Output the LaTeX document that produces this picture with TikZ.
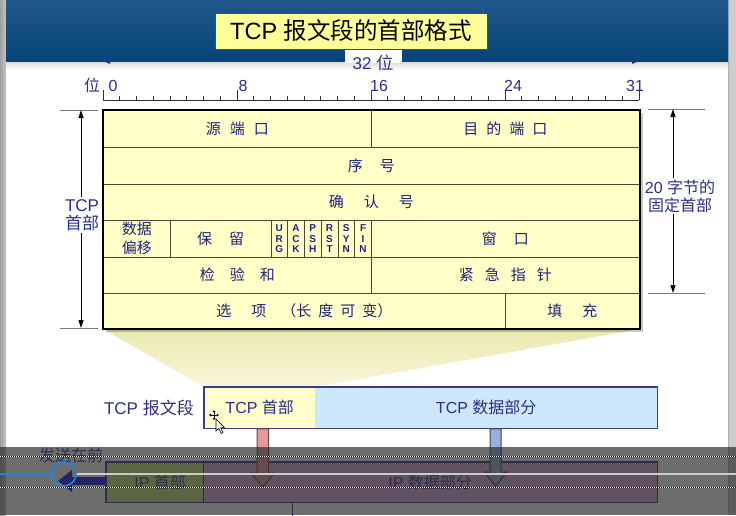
\documentclass[tikz,border=0pt]{standalone}
\usepackage{fontspec}
\setmainfont{Liberation Sans}
\newfontfamily\cjk{Noto Sans CJK SC}
\usetikzlibrary{arrows.meta,calc}
\pgfdeclarelayer{back}
\pgfdeclarelayer{mid}
\pgfdeclarelayer{front}
\pgfsetlayers{back,mid,main,front}
\newcommand\zh[1]{{\cjk #1}}
\newcommand\fsz[2]{\fontsize{#1}{#2}\selectfont}

\definecolor{bandtop}{HTML}{21588B}
\definecolor{bandbot}{HTML}{054477}
\definecolor{titlefill}{HTML}{FFFF99}
\definecolor{navytxt}{HTML}{2B2F88}
\definecolor{celltxt}{HTML}{1F2478}
\definecolor{cellfill}{HTML}{FFFFC8}
\definecolor{cellline}{HTML}{4A4A30}
\definecolor{rulecol}{HTML}{333333}
\definecolor{brackcol}{HTML}{777777}
\definecolor{hdrfill}{HTML}{FFFFCC}
\definecolor{datafill}{HTML}{CDE8FB}
\definecolor{segline}{HTML}{3A3A8E}
\definecolor{trapTop}{HTML}{EAE8AE}
\definecolor{trapBot}{HTML}{F8F7DA}
\definecolor{ipgreen}{HTML}{C4E878}
\definecolor{ippurple}{HTML}{DCA8DA}
\definecolor{arrowred}{HTML}{E49A9A}
\definecolor{arrowblue}{HTML}{98B0E0}
\definecolor{sendblue}{HTML}{1A1AE8}
\definecolor{overlaycol}{HTML}{282828}
\definecolor{progblue}{HTML}{1E86E0}

\begin{document}
\begin{tikzpicture}[x=1pt,y=-1pt,
  tcell/.style={draw=cellline, line width=0.9pt, fill=cellfill, anchor=north west,
    inner sep=0pt, text=celltxt, font=\fsz{15}{18}\cjk},
  flagcell/.style={tcell, minimum width=16.75pt, minimum height=36.5pt, align=center,
    font=\fsz{10}{10.4}\bfseries},
  rulenum/.style={anchor=base, text=navytxt, font=\fsz{16}{18}, inner sep=0pt},
  sidetxt/.style={fill=white, text=navytxt, align=center, font=\fsz{16}{18}, inner sep=2pt},
  segpart/.style={anchor=north west, minimum height=41pt, inner sep=0pt, text=navytxt, font=\fsz{16}{18}},
  ippart/.style={anchor=north west, minimum height=40pt, inner sep=0pt, text=segline, font=\fsz{16}{18}},
  dimarrow/.style={line width=0.9pt, {Triangle[length=8pt,width=5pt]}-{Triangle[length=8pt,width=5pt]}},
  brack/.style={brackcol, line width=0.9pt}
]
\useasboundingbox (0,0) rectangle (736,515);

% ---- page background, side strips and heading band
\begin{pgfonlayer}{back}
  \fill[white] (0,0) rectangle (736,515);
  \shade[left color=gray!75, right color=gray!45] (0,0) rectangle (6,515);
  \fill[gray!40] (728,0) rectangle (736,515);
  \draw[gray!65, line width=0.8pt] (728.4,0) -- (728.4,515);
  \shade[top color=bandtop, bottom color=bandbot] (6,0) rectangle (728,62);
  \shade[top color=black!14, bottom color=white] (6,62) rectangle (728,70);
\end{pgfonlayer}

% ---- title and 32-bit width marker
\draw[navytxt, line width=0.8pt, {Latex[length=7pt,width=5pt]}-{Latex[length=7pt,width=5pt]}]
  (103,61.5) -- (639,61.5);
\fill[white] (345,49) rectangle (402,63);
\node[text=navytxt, font=\fsz{17}{19}, inner sep=0pt] (width) at (373,63) {32 \zh{位}};
\node[draw=gray!60!black, line width=0.8pt, fill=titlefill, minimum width=272pt,
  minimum height=36pt, inner sep=0pt, font=\fsz{23.5}{26}] (title) at (351,31)
  {TCP \zh{报文段的首部格式}};

% ---- bit ruler
\draw[rulecol, line width=0.9pt] (103,100) -- (639,100);
\foreach \i in {0,...,32}{
  \pgfmathsetmacro\tick{mod(\i,8)==0 ? 10 : 4}
  \draw[rulecol, line width=0.9pt] (103+\i*16.75,100) -- ++(0,-\tick);
}
\node[rulenum, font=\fsz{16}{18}\cjk] (bitword) at (92,91) {位};
\node[rulenum] (b0)  at (113,91) {0};
\node[rulenum] (b8)  at (243,91) {8};
\node[rulenum] (b16) at (379,91) {16};
\node[rulenum] (b24) at (513,91) {24};
\node[rulenum] (b31) at (635,91) {31};

% ---- header fields
\node[tcell, minimum width=268pt, minimum height=37pt] (src) at (103,110) {源\hspace{9pt}端\hspace{9pt}口};
\node[tcell, minimum width=268pt, minimum height=37pt] (dst) at (371,110) {目\hspace{8pt}的\hspace{8pt}端\hspace{8pt}口};
\node[tcell, minimum width=536pt, minimum height=36.5pt] (seq) at (103,147) {序\hspace{17pt}号};
\node[tcell, minimum width=536pt, minimum height=36.5pt] (ackn) at (103,183.5) {确\hspace{20pt}认\hspace{20pt}号};
\node[tcell, minimum width=67pt, minimum height=36.5pt, align=center,
  font=\fsz{15}{19}\cjk] (doff) at (103,220) {数据\\偏移};
\node[tcell, minimum width=100.5pt, minimum height=36.5pt] (rsv) at (170,220) {保\hspace{17pt}留};
\node[flagcell] (furg) at (270.5,220)  {U\\R\\G};
\node[flagcell] (fack) at (287.25,220) {A\\C\\K};
\node[flagcell] (fpsh) at (304,220)    {P\\S\\H};
\node[flagcell] (frst) at (320.75,220) {R\\S\\T};
\node[flagcell] (fsyn) at (337.5,220)  {S\\Y\\N};
\node[flagcell] (ffin) at (354.25,220) {F\\I\\N};
\node[tcell, minimum width=268pt, minimum height=36.5pt] (win) at (371,220) {窗\hspace{17pt}口};
\node[tcell, minimum width=268pt, minimum height=36.5pt] (chk) at (103,256.5) {检\hspace{15pt}验\hspace{15pt}和};
\node[tcell, minimum width=268pt, minimum height=36.5pt] (urgp) at (371,256.5) {紧\hspace{11pt}急\hspace{11pt}指\hspace{11pt}针};
\node[tcell, minimum width=402pt, minimum height=35pt] (opt) at (103,293)
  {选\hspace{20pt}项\hspace{15pt}（长\hspace{7pt}度\hspace{7pt}可\hspace{7pt}变）\hspace{18pt}};
\node[tcell, minimum width=134pt, minimum height=35pt] (pad) at (505,293) {填\hspace{20pt}充};
\draw[black, line width=1.8pt] (src.north west) rectangle (pad.south east);

% ---- dimension brackets
\draw[brack] (60,110) -- (98,110);
\draw[brack] (60,328) -- (98,328);
\coordinate (lt) at (81,110);
\coordinate (lb) at (81,328);
\draw[dimarrow] (lt) -- (lb);
\node[sidetxt, font=\fsz{17}{18.5}] (hdrlen) at (82,215) {TCP\\\zh{首部}};

\draw[brack] (648,109) -- (705,109);
\draw[brack] (648,293) -- (705,293);
\coordinate (rt) at (673,109);
\coordinate (rb) at (673,293);
\draw[dimarrow] (rt) -- (rb);
\node[sidetxt] (fixlen) at (680,196) {20 \zh{字节的}\\\zh{固定首部}};

% ---- TCP segment
\node[segpart, minimum width=111pt, fill=hdrfill] (tcphdr) at (204,387) {TCP \zh{首部}};
\node[segpart, minimum width=342pt, fill=datafill] (tcpdata) at (315,387) {TCP \zh{数据部分}};
\draw[segline, line width=1.5pt] (tcphdr.north west) rectangle (tcpdata.south east);
\node[anchor=east, text=navytxt, font=\fsz{17}{19}, inner sep=0pt] (seglabel) at (194,408) {TCP \zh{报文段}};

% ---- header expanded from the segment, table shadow
\begin{pgfonlayer}{mid}
  \shade[top color=trapTop, bottom color=trapBot]
    (opt.south west) -- (pad.south east) -- (tcphdr.north east) -- (tcphdr.north west) -- cycle;
  \fill[black, opacity=0.22] ($(src.north west)+(3,3)$) rectangle ($(pad.south east)+(3,3)$);
\end{pgfonlayer}

% ---- IP datagram
\node[ippart, minimum width=97pt, fill=ipgreen] (iphdr) at (106,462) {\hspace{11pt}IP \zh{首部}};
\node[ippart, minimum width=454pt, fill=ippurple] (ipdata) at (203,462) {IP \zh{数据部分}\hspace{24pt}};
\draw[segline, line width=1.5pt] (iphdr.north west) rectangle (ipdata.south east);
\draw[segline, line width=1.2pt] (iphdr.north east) -- (iphdr.south east);
\draw[segline, line width=1pt] ($(ipdata.south west)+(89,0)$) -- ++(0,14);

% ---- mapping arrows (segment into datagram)
\filldraw[fill=arrowred, draw=arrowred!45!black, line width=1pt]
  (257,428.8) -- (257,473) -- (251,473) -- (262.75,487) -- (274.5,473) -- (268.5,473) -- (268.5,428.8) -- cycle;
\filldraw[fill=arrowblue, draw=arrowblue!40!black, line width=1pt]
  (490,428.8) -- (490,472) -- (484,472) -- (495.5,486) -- (507,472) -- (501,472) -- (501,428.8) -- cycle;

% ---- transmission order
\fill[sendblue] (iphdr.west |- 0,477) -- (72,477) -- (72,470) -- (58,481) -- (72,492) -- (72,485) -- (iphdr.west |- 0,485) -- cycle;
\node[text=segline, font=\fsz{16}{18}\cjk, inner sep=0pt] (sendfirst) at (71,455) {发送在前};

% ---- mouse pointer
\draw[black, line width=0.7pt] (210,415) -- (218,415) (214,411) -- (214,419);
\fill[black] (209,415) -- (211,413.5) -- (211,416.5) -- cycle
  (219,415) -- (217,413.5) -- (217,416.5) -- cycle
  (214,410) -- (212.5,412) -- (215.5,412) -- cycle
  (214,420) -- (212.5,418) -- (215.5,418) -- cycle;
\filldraw[fill=white, draw=black, line width=0.6pt]
  (216,419) -- (216,431) -- (218.8,428.4) -- (221.2,433.5) -- (223,432.7) -- (220.7,427.7) -- (224.5,427.7) -- cycle;

% ---- player strip across the bottom
\begin{pgfonlayer}{front}
  \fill[overlaycol, opacity=0.68] (0,447) rectangle (736,515);
  \foreach \yy in {456,487}{
    \draw[white, line width=1pt, dash pattern=on 1pt off 1pt] (0,\yy) -- (736,\yy);
    \draw[black, line width=1pt, dash pattern=on 1pt off 1pt, dash phase=1pt] (0,\yy) -- (736,\yy);
  }
  \coordinate (knob) at (64,474);
  \draw[progblue, line width=2pt] (0,474) -- ($(knob)+(-12,0)$);
  \draw[gray!40, line width=2pt] ($(knob)+(12,0)$) -- (736,474);
  \draw[progblue, line width=1.6pt] (knob) circle [radius=12];
\end{pgfonlayer}
\end{tikzpicture}
\end{document}
